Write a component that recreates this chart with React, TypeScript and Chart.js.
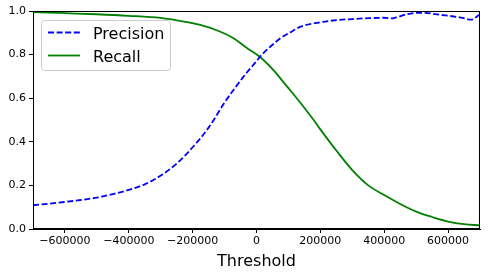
import React, { useEffect, useRef } from "react";
import { Chart, registerables } from "chart.js";

Chart.register(...registerables);

// thresholds (x) and values
const precisionX = [-700000, -650000, -600000, -550000, -500000, -450000, -400000, -350000, -300000, -250000, -200000, -150000, -100000, -72000, -40000, 0, 12000, 50000, 75000, 100000, 138000, 195000, 250000, 300000, 350000, 400000, 420000, 440000, 470000, 515000, 578000, 640000, 672000, 700000];
const precisionY = [0.109, 0.116, 0.124, 0.133, 0.144, 0.16, 0.179, 0.205, 0.245, 0.3, 0.375, 0.465, 0.58, 0.638, 0.7, 0.77, 0.792, 0.845, 0.875, 0.897, 0.928, 0.947, 0.958, 0.963, 0.967, 0.969, 0.966, 0.972, 0.985, 0.992, 0.982, 0.97, 0.96, 0.985];
const recallX = [-700000, -600000, -500000, -400000, -300000, -250000, -176000, -113000, -72000, -29000, 12000, 53000, 96000, 138000, 179000, 200000, 250000, 300000, 350000, 400000, 450000, 500000, 550000, 600000, 650000, 700000];
const recallY = [0.995, 0.99, 0.985, 0.978, 0.968, 0.957, 0.936, 0.905, 0.875, 0.829, 0.788, 0.729, 0.653, 0.578, 0.5, 0.457, 0.36, 0.27, 0.2, 0.156, 0.115, 0.08, 0.055, 0.034, 0.022, 0.017];
const xTicks = [-600000, -400000, -200000, 0, 200000, 400000, 600000];
const yTicks = [0, 0.2, 0.4, 0.6, 0.8, 1.0];
const seriesLabels = ["Precision", "Recall"];
const xTitle = "Threshold";

const FONT = "'DejaVu Sans', sans-serif";
const DASH = [6, 2.6];

const framePlugin = {
  id: "frame",
  afterDraw(chart: any) {
    const { ctx, chartArea } = chart;
    const { left, top, right, bottom } = chartArea;
    ctx.save();
    ctx.strokeStyle = "#000";
    ctx.lineWidth = 1;
    ctx.strokeRect(left + 0.5, top + 0.5, right - left - 1, bottom - top - 1);

    // legend box
    const bx = left + 8.5, by = top + 9.5, bw = 129, bh = 50, r = 3;
    ctx.beginPath();
    ctx.moveTo(bx + r, by);
    ctx.lineTo(bx + bw - r, by);
    ctx.arcTo(bx + bw, by, bx + bw, by + r, r);
    ctx.lineTo(bx + bw, by + bh - r);
    ctx.arcTo(bx + bw, by + bh, bx + bw - r, by + bh, r);
    ctx.lineTo(bx + r, by + bh);
    ctx.arcTo(bx, by + bh, bx, by + bh - r, r);
    ctx.lineTo(bx, by + r);
    ctx.arcTo(bx, by, bx + r, by, r);
    ctx.closePath();
    ctx.fillStyle = "rgba(255,255,255,0.8)";
    ctx.fill();
    ctx.strokeStyle = "#cccccc";
    ctx.stroke();

    const ds = chart.data.datasets;
    const rows = [by + 12, by + 35];
    ds.forEach((d: any, i: number) => {
      ctx.beginPath();
      ctx.strokeStyle = d.borderColor;
      ctx.lineWidth = d.borderWidth;
      ctx.setLineDash(d.borderDash || []);
      ctx.moveTo(left + 15, rows[i]);
      ctx.lineTo(left + 47, rows[i]);
      ctx.stroke();
      ctx.setLineDash([]);
      ctx.fillStyle = "#000";
      ctx.font = `16px ${FONT}`;
      ctx.textBaseline = "alphabetic";
      ctx.textAlign = "left";
      ctx.fillText(d.label, left + 60, rows[i] + 6.5);
    });
    ctx.restore();
  },
};

export default function App() {
  const ref = useRef<HTMLCanvasElement>(null);
  useEffect(() => {
    document.body.style.margin = "0";
    const chart = new Chart(ref.current!, {
      type: "line",
      data: {
        datasets: [
          {
            label: seriesLabels[0],
            data: precisionX.map((x, i) => ({ x, y: precisionY[i] })),
            borderColor: "#0000ff",
            borderWidth: 1.8,
            borderDash: DASH,
            pointRadius: 0,
            cubicInterpolationMode: "monotone",
            fill: false,
          },
          {
            label: seriesLabels[1],
            data: recallX.map((x, i) => ({ x, y: recallY[i] })),
            borderColor: "#008000",
            borderWidth: 1.8,
            pointRadius: 0,
            cubicInterpolationMode: "monotone",
            fill: false,
          },
        ],
      },
      options: {
        animation: false,
        responsive: false,
        layout: { padding: { left: 0, top: 11, right: 10, bottom: 0 } },
        plugins: { legend: { display: false }, tooltip: { enabled: false } },
        scales: {
          x: {
            type: "linear",
            min: -700000,
            max: 700000,
            afterBuildTicks: (s: any) => {
              s.ticks = xTicks.map((v) => ({ value: v }));
            },
            afterFit: (s: any) => {
              s.height = 46;
            },
            ticks: {
              font: { family: FONT, size: 11 },
              color: "#000",
              padding: 2,
              maxRotation: 0,
              autoSkip: false,
              callback: (v: any) => String(v).replace("-", "\u2212"),
            },
            grid: { drawOnChartArea: false, drawTicks: true, tickLength: 4, color: "#000" },
            border: { display: true, color: "#000" },
            title: {
              display: true,
              text: xTitle,
              font: { family: FONT, size: 16 },
              color: "#000",
              padding: { top: 0, bottom: 4 },
            },
          },
          y: {
            min: 0,
            max: 1,
            afterBuildTicks: (s: any) => {
              s.ticks = yTicks.map((v) => ({ value: v }));
            },
            afterFit: (s: any) => {
              s.width = 33;
            },
            ticks: {
              font: { family: FONT, size: 11 },
              color: "#000",
              padding: 3,
              autoSkip: false,
              callback: (v: any) => Number(v).toFixed(1),
            },
            grid: { drawOnChartArea: false, drawTicks: true, tickLength: 4, color: "#000" },
            border: { display: true, color: "#000" },
          },
        },
      },
      plugins: [framePlugin],
    } as any);
    return () => chart.destroy();
  }, []);
  return (
    <div style={{ width: 490, height: 275 }}>
      <canvas ref={ref} width={490} height={275} />
    </div>
  );
}
